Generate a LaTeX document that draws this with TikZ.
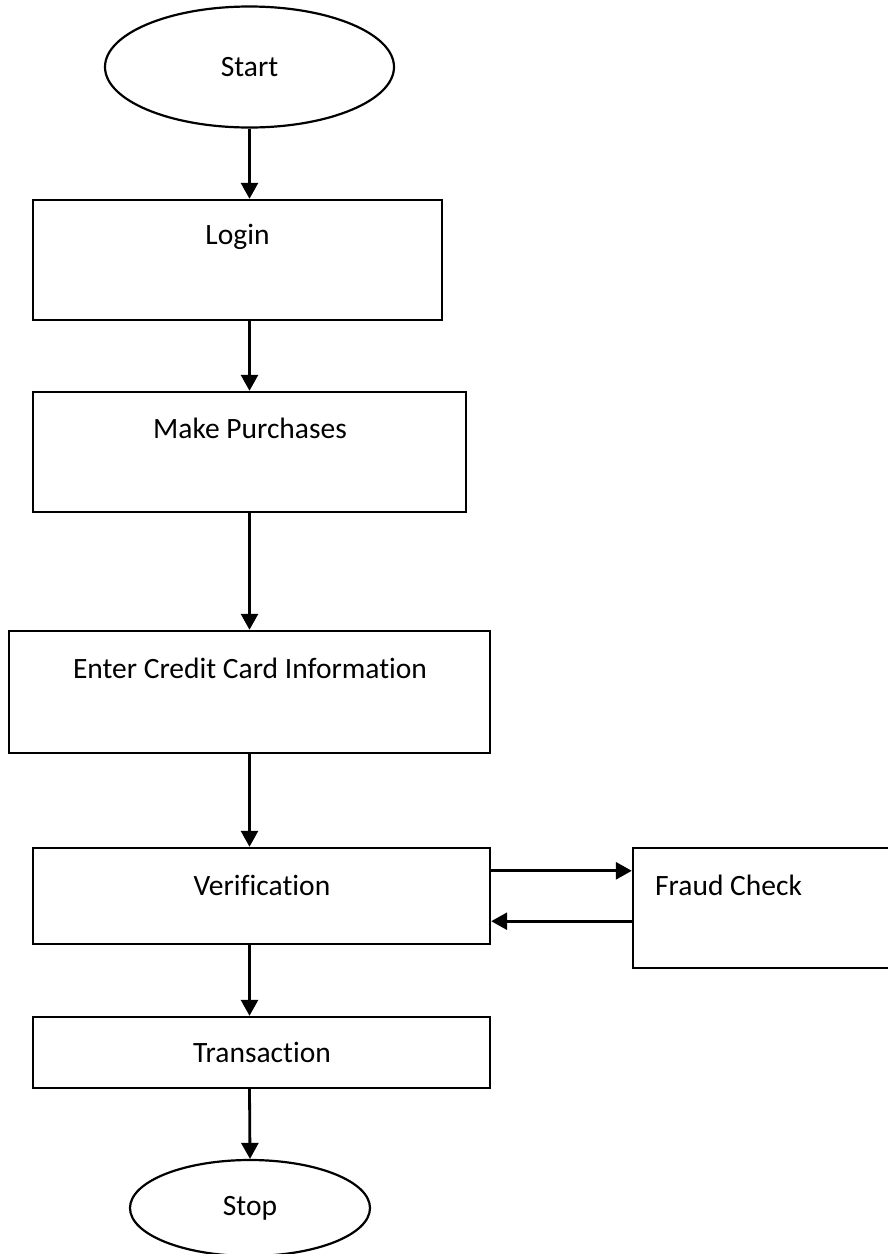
\documentclass[tikz,border=0pt]{standalone}
\usepackage{fontspec}
\setmainfont{Carlito}[Ligatures=NoCommon]
\usetikzlibrary{shapes.geometric,arrows.meta}
\begin{document}
\begin{tikzpicture}[x=1pt,y=-1pt,
  every node/.style={font=\fontsize{29.5}{34}\selectfont},
  boxnode/.style={draw, line width=2.4pt, rectangle, inner sep=0pt},
  ovalnode/.style={draw, line width=2.2pt, ellipse, inner sep=0pt},
  lbl/.style={inner sep=0pt, anchor=center},
  arr/.style={line width=2.8pt, -{Triangle[width=17pt,length=16pt]}}]
\clip (0,0) rectangle (888,1254);
\useasboundingbox (0,0) rectangle (888,1254);
\fill[white] (0,0) rectangle (888,1254);
% shapes
\node[ovalnode, minimum width=289pt, minimum height=121pt] (start) at (249.5,67) {Start};
\node[boxnode, minimum width=409pt, minimum height=120pt] (login) at (237.5,260) {};
\node[lbl] (loginT) at (237.5,237) {Login};
\node[boxnode, minimum width=433pt, minimum height=120pt] (purch) at (249.5,452) {};
\node[lbl] (purchT) at (250,428) {Make Purchases};
\node[boxnode, minimum width=481pt, minimum height=122pt] (enter) at (249.5,692) {};
\node[lbl] (enterT) at (250,668) {Enter Credit Card Information};
\node[boxnode, minimum width=457pt, minimum height=96pt] (verif) at (261.5,896) {};
\node[lbl] (verifT) at (262,885) {Verification};
\node[boxnode, minimum width=275pt, minimum height=120pt] (fraud) at (770.5,908) {};
\node[lbl, anchor=west] (fraudT) at (655,885) {Fraud Check};
\node[boxnode, minimum width=457pt, minimum height=71pt] (trans) at (261.5,1052.5) {};
\node[lbl] (transT) at (262,1052) {Transaction};
\node[ovalnode, minimum width=240pt, minimum height=96pt] (stop) at (250,1208) {Stop};
% connectors
\draw[arr] (start.south) -- (start.south |- login.north);
\draw[arr] (start.south |- login.south) -- (start.south |- purch.north);
\draw[arr] (purch.south) -- (purch.south |- enter.north);
\draw[arr] (enter.south) -- (enter.south |- verif.north);
\draw[arr] (enter.south |- verif.south) -- (enter.south |- trans.north);
\draw[arr] (enter.south |- trans.south) -- (stop.north);
\coordinate (vr1) at ([yshift=-24pt]verif.north east);
\coordinate (vr2) at ([yshift=24pt]verif.south east);
\draw[arr] (vr1) -- (vr1 -| fraud.west);
\draw[arr] (vr2 -| fraud.west) -- (vr2);
\end{tikzpicture}
\end{document}
